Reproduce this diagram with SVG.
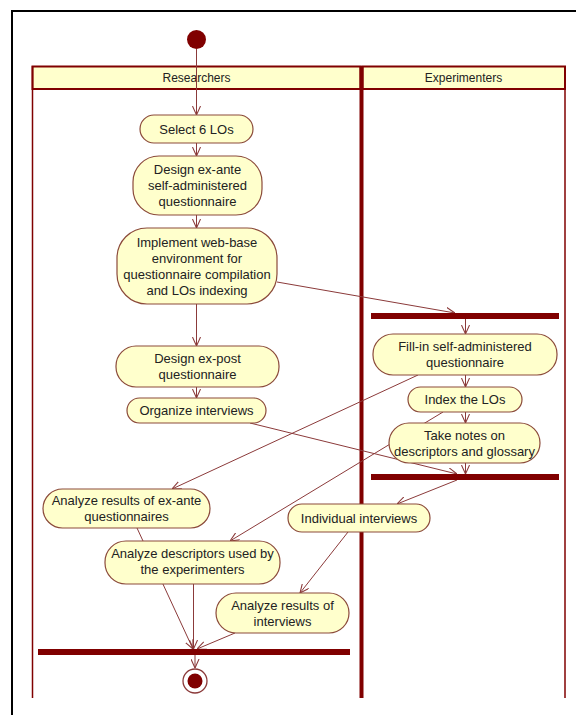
<svg xmlns="http://www.w3.org/2000/svg" width="576" height="715" viewBox="0 0 576 715">
<defs>
<marker id="arr" viewBox="0 0 10 10" refX="10" refY="5" markerWidth="9" markerHeight="9" markerUnits="userSpaceOnUse" orient="auto">
<path d="M0,0.5 L10,5 L0,9.5" fill="none" stroke="#8b3a3a" stroke-width="1.2"/>
</marker>
<style>
.edge{fill:none;stroke:#8b3a3a;stroke-width:1;marker-end:url(#arr)}
.node rect{fill:#ffffcc;stroke:#8b4a3a;stroke-width:1.2}
.node text,.hdr text{font-family:"Liberation Sans",Arial,sans-serif;font-size:13px;fill:#222;text-anchor:middle}
.hdr text{font-size:12px}
.bar{fill:#800000}
.lane{stroke:#800000;fill:none}
</style>
</defs>
<rect x="0" y="0" width="576" height="715" fill="#ffffff"/>
<path d="M12,715 V11 H576" fill="none" stroke="#000" stroke-width="2"/>
<g id="lanes">
<rect x="32.5" y="66.5" width="328" height="22.5" fill="#ffffcc" stroke="#800000" stroke-width="2"/>
<rect x="362.5" y="66.5" width="202.5" height="22.5" fill="#ffffcc" stroke="#800000" stroke-width="2"/>
<line class="lane" x1="32.5" y1="66" x2="32.5" y2="698" stroke-width="1.5"/>
<line class="lane" x1="361.5" y1="66" x2="361.5" y2="698" stroke-width="4"/>
<line class="lane" x1="565" y1="66" x2="565" y2="698" stroke-width="1.5"/>
<g class="hdr"><text x="196.5" y="82">Researchers</text><text x="463.5" y="82">Experimenters</text></g>
</g>
<g id="connectors">
<line class="edge" x1="196.5" y1="49" x2="196.5" y2="115"/>
<line class="edge" x1="196.5" y1="143" x2="196.5" y2="156"/>
<line class="edge" x1="196.5" y1="215" x2="196.5" y2="228"/>
<line class="edge" x1="196.5" y1="304" x2="196.5" y2="346"/>
<line class="edge" x1="196.5" y1="387" x2="196.5" y2="398"/>
<line class="edge" x1="277" y1="282" x2="455" y2="313"/>
<line class="edge" x1="465.5" y1="319" x2="465.5" y2="334"/>
<line class="edge" x1="465.5" y1="375" x2="465.5" y2="387"/>
<line class="edge" x1="465.5" y1="412" x2="465.5" y2="423"/>
<line class="edge" x1="465.5" y1="463" x2="465.5" y2="474"/>
<line class="edge" x1="250" y1="423" x2="457" y2="474"/>
<line class="edge" x1="418" y1="375" x2="172" y2="489"/>
<line class="edge" x1="443" y1="412" x2="230" y2="541"/>
<line class="edge" x1="457" y1="480" x2="397" y2="504"/>
<line class="edge" x1="348" y1="532" x2="300" y2="593"/>
<line class="edge" x1="137" y1="528" x2="193" y2="649"/>
<line class="edge" x1="193.5" y1="584" x2="193.5" y2="649"/>
<line class="edge" x1="235" y1="633" x2="197" y2="649"/>
<line class="edge" x1="195" y1="655" x2="195" y2="668"/>
</g>
<g id="start"><circle cx="196.5" cy="39.5" r="9.5" fill="#800000"/></g>
<g id="n1" class="node"><rect x="140" y="115" width="113" height="28" rx="14"/><text x="196.5" y="133.5">Select 6 LOs</text></g>
<g id="n2" class="node"><rect x="133" y="156" width="129" height="59" rx="26"/><text x="197.5" y="173.5">Design ex-ante</text><text x="197.5" y="189.5">self-administered</text><text x="197.5" y="205.5">questionnaire</text></g>
<g id="n3" class="node"><rect x="117" y="228" width="160" height="76" rx="30"/><text x="197" y="246.5">Implement web-base</text><text x="197" y="262.5">environment for</text><text x="197" y="278.5">questionnaire compilation</text><text x="197" y="294.5">and LOs indexing</text></g>
<g id="n4" class="node"><rect x="116" y="346" width="163" height="41" rx="20"/><text x="197.5" y="363">Design ex-post</text><text x="197.5" y="379">questionnaire</text></g>
<g id="n5" class="node"><rect x="127" y="398" width="139" height="25" rx="12.5"/><text x="196.5" y="415">Organize interviews</text></g>
<g id="fork1"><rect class="bar" x="371" y="313" width="188" height="6"/></g>
<g id="n6" class="node"><rect x="373" y="334" width="184" height="41" rx="20"/><text x="465" y="351">Fill-in self-administered</text><text x="465" y="367">questionnaire</text></g>
<g id="n7" class="node"><rect x="408" y="387" width="114" height="25" rx="12.5"/><text x="465" y="404">Index the LOs</text></g>
<g id="n8" class="node"><rect x="389" y="423" width="151" height="40" rx="20"/><text x="464.5" y="440">Take notes on</text><text x="464.5" y="456">descriptors and glossary</text></g>
<g id="join1"><rect class="bar" x="371" y="474" width="188" height="6"/></g>
<g id="n9" class="node"><rect x="43" y="489" width="167" height="39" rx="19.5"/><text x="126.5" y="505">Analyze results of ex-ante</text><text x="126.5" y="521">questionnaires</text></g>
<g id="n10" class="node"><rect x="288" y="504" width="142" height="28" rx="14"/><text x="359" y="522.5">Individual interviews</text></g>
<g id="n11" class="node"><rect x="105" y="541" width="175" height="43" rx="21"/><text x="192.5" y="558">Analyze descriptors used by</text><text x="192.5" y="574">the experimenters</text></g>
<g id="n12" class="node"><rect x="216" y="593" width="133" height="40" rx="20"/><text x="282.5" y="610">Analyze results of</text><text x="282.5" y="626">interviews</text></g>
<g id="join2"><rect class="bar" x="38" y="649" width="312" height="6"/></g>
<g id="end"><circle cx="195" cy="681" r="12" fill="#fff" stroke="#8b3a3a" stroke-width="1.3"/><circle cx="195" cy="681" r="7.5" fill="#800000"/></g>
</svg>
